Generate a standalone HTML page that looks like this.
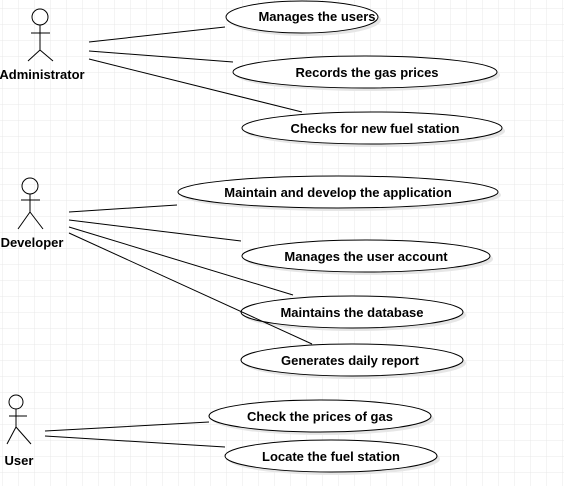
<!DOCTYPE html>
<html><head><style>
html,body{margin:0;padding:0;background:#fff;}
svg{display:block;}
text{font-family:"Liberation Sans",Arial,sans-serif;font-size:13px;font-weight:bold;fill:#000;}
</style></head><body>
<svg width="564" height="486" xmlns="http://www.w3.org/2000/svg">
<defs>
<pattern id="g" x="2" y="8" width="16" height="16" patternUnits="userSpaceOnUse">
<path d="M0 0H16M0 0V16" stroke="#e8e8e8" stroke-width="1" fill="none"/>
</pattern>
</defs>
<rect width="564" height="486" fill="url(#g)"/>
<g fill="#e6e6e6" stroke="none">
<ellipse cx="305" cy="20" rx="76" ry="16"/>
<ellipse cx="368" cy="75" rx="132" ry="16"/>
<ellipse cx="375" cy="131" rx="130" ry="16"/>
<ellipse cx="341" cy="195" rx="160" ry="16"/>
<ellipse cx="369" cy="259" rx="124" ry="16"/>
<ellipse cx="355" cy="315" rx="111" ry="16"/>
<ellipse cx="355" cy="363" rx="111" ry="16"/>
<ellipse cx="323" cy="419" rx="111" ry="16"/>
<ellipse cx="334" cy="459" rx="106" ry="16"/>
</g>
<g fill="#fff" stroke="#000" stroke-width="1">
<ellipse cx="302" cy="17" rx="76" ry="16"/>
<ellipse cx="365" cy="72" rx="132" ry="16"/>
<ellipse cx="372" cy="128" rx="130" ry="16"/>
<ellipse cx="338" cy="192" rx="160" ry="16"/>
<ellipse cx="366" cy="256" rx="124" ry="16"/>
<ellipse cx="352" cy="312" rx="111" ry="16"/>
<ellipse cx="352" cy="360" rx="111" ry="16"/>
<ellipse cx="320" cy="416" rx="111" ry="16"/>
<ellipse cx="331" cy="456" rx="106" ry="16"/>
</g>
<g stroke="#000" fill="none" stroke-width="1">
<circle cx="40" cy="17" r="8"/>
<path d="M40 25V50M31 33H50M40 50L28 61M40 50L53 61"/>
<circle cx="30" cy="186" r="8"/>
<path d="M30 194V212M21 200H40M30 212L18 229M30 212L43 229"/>
<circle cx="16" cy="402" r="7"/>
<path d="M16 409V427M9 416H27M16 427L7 444M16 427L31 444"/>
<path d="M89 42L225 27M89 51L233 62M89 59L302 112"/>
<path d="M69 212L177 205M69 220L241 241M69 227L293 295M69 233L312 344"/>
<path d="M45 431L209 422M45 436L225 447"/>
</g>
<g text-anchor="middle">
<text x="317" y="21">Manages the users</text>
<text x="367" y="77">Records the  gas prices</text>
<text x="375" y="133">Checks for new fuel station</text>
<text x="338" y="197">Maintain and develop the application</text>
<text x="366" y="261">Manages the user account</text>
<text x="352" y="317">Maintains the database</text>
<text x="350" y="365">Generates daily report</text>
<text x="320" y="421">Check the prices of gas</text>
<text x="331" y="461">Locate the fuel station</text>
<text x="42" y="79">Administrator</text>
<text x="32" y="247">Developer</text>
<text x="19" y="465">User</text>
</g>
</svg>
</body></html>
